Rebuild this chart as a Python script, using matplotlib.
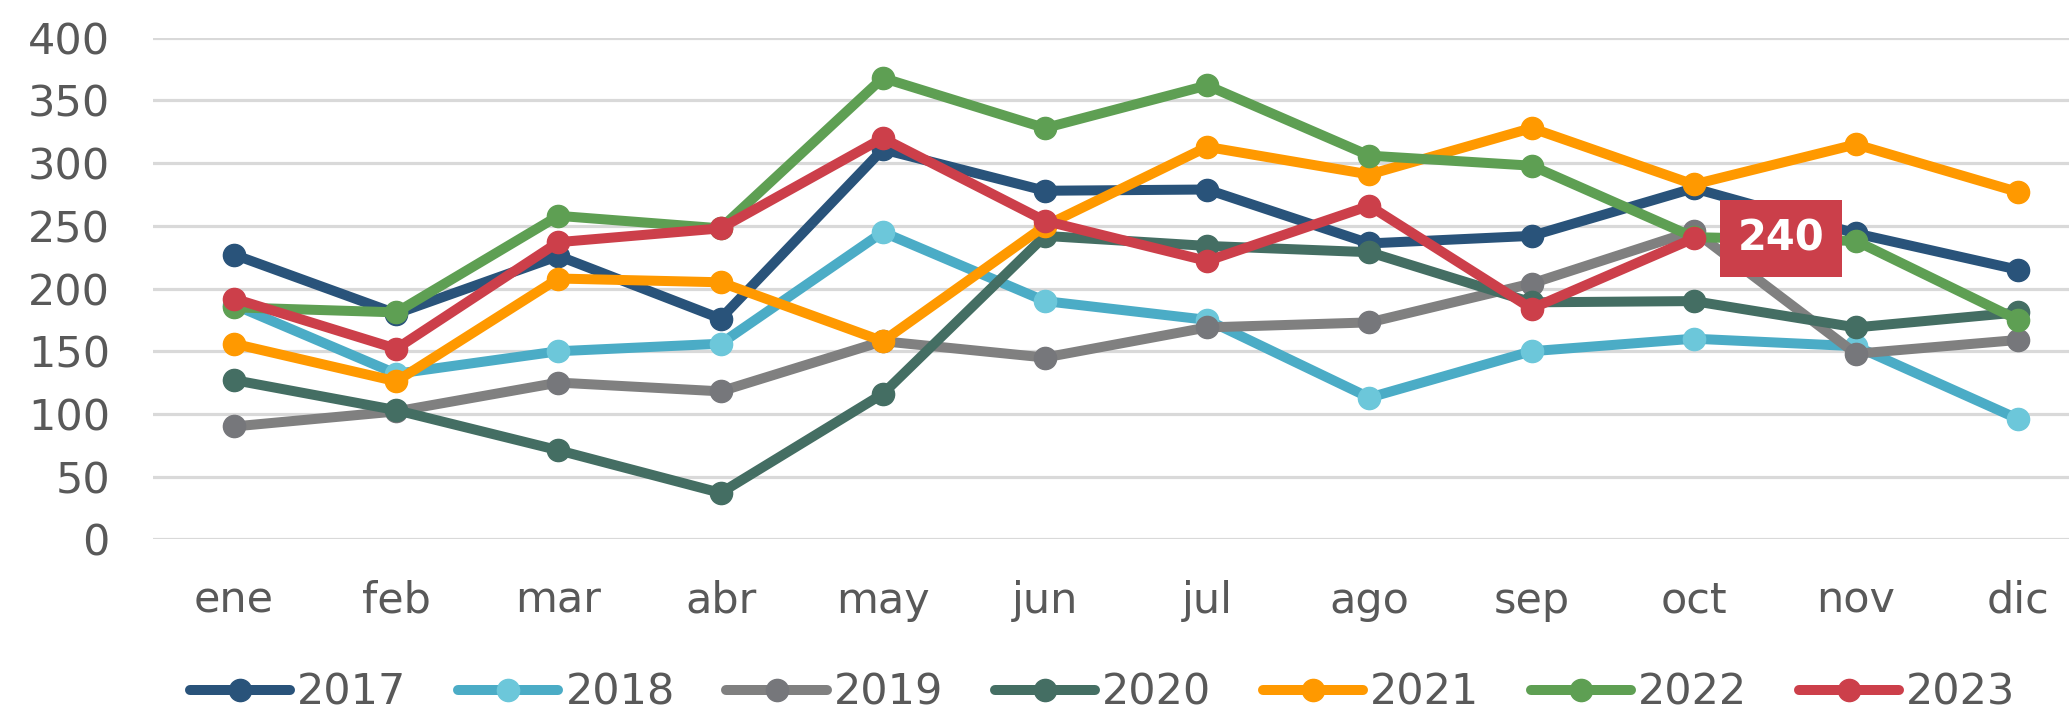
import matplotlib
matplotlib.use("Agg")
import matplotlib.pyplot as plt

months = ["ene", "feb", "mar", "abr", "may", "jun", "jul", "ago", "sep", "oct", "nov", "dic"]

v2017 = [227, 180, 226, 176, 311, 278, 279, 236, 242, 280, 244, 215]
v2018 = [187, 132, 150, 156, 245, 190, 175, 113, 150, 160, 154, 96]
v2019 = [90, 102, 125, 118, 158, 145, 169, 173, 204, 246, 148, 159]
v2020 = [127, 103, 71, 37, 116, 242, 234, 229, 189, 190, 169, 181]
v2021 = [156, 126, 208, 205, 158, 250, 313, 291, 328, 283, 315, 277]
v2022 = [185, 181, 258, 248, 368, 328, 362, 306, 298, 241, 238, 175]
v2023 = [192, 152, 237, 248, 320, 254, 222, 266, 184, 240]

series = [
    ("2017", v2017, "#29537A", "#29537A"),
    ("2018", v2018, "#4BACC6", "#6CC7DA"),
    ("2019", v2019, "#808080", "#76777B"),
    ("2020", v2020, "#446E63", "#446E63"),
    ("2021", v2021, "#FF9900", "#FF9900"),
    ("2022", v2022, "#5E9F53", "#5E9F53"),
    ("2023", v2023, "#CC3F4A", "#CC3F4A"),
]

plt.rcParams["font.family"] = ["DejaVu Sans"]
text_color = "#595959"

fig = plt.figure(figsize=(20.69, 7.17), dpi=100)
ax = fig.add_axes([153 / 2069, 1 - 539.3 / 717, 1 - 153 / 2069, (539.3 - 37.8) / 717])

for name, vals, lc, mc in series:
    ax.plot(range(len(vals)), vals, color=lc, lw=7.2, marker="o", ms=16,
            mfc=mc, mec=mc, label=name, solid_capstyle="round", clip_on=False)

# data label on the last 2023 point
last = len(v2023) - 1
ax.annotate(f"{v2023[last]}", xy=(last, v2023[last]), xytext=(87, 0),
            textcoords="offset pixels", ha="center", va="center",
            fontsize=30, fontweight="bold", color="white",
            bbox=dict(boxstyle="square,pad=0.42", fc="#CB3F4A", ec="none"))

ax.set_ylim(0, 400)
ax.set_yticks(range(0, 401, 50))
ax.set_xlim(-0.5, 11.314)
ax.set_xticks(range(12))
ax.set_xticklabels(months)
ax.yaxis.grid(True, color="#D9D9D9", lw=2.3)
ax.set_axisbelow(True)
for s in ax.spines.values():
    s.set_visible(False)
ax.tick_params(axis="both", length=0, labelsize=31, labelcolor=text_color)
ax.tick_params(axis="y", pad=31)
ax.tick_params(axis="x", pad=29)

leg = fig.legend(loc="center", bbox_to_anchor=(0.533, 0.0335), ncol=7, frameon=False,
                 fontsize=31, handlelength=2.33, handletextpad=0.16, columnspacing=1.2,
                 borderaxespad=0)
for t in leg.get_texts():
    t.set_color(text_color)

fig.savefig("out.png", dpi=100)
